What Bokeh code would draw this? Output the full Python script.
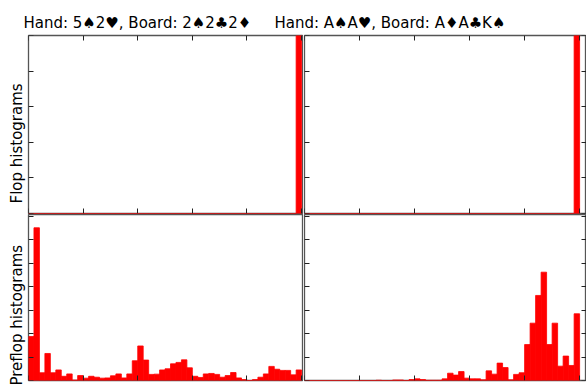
import numpy as np
from bokeh.plotting import figure
from bokeh.models import Range1d, LinearAxis, SingleIntervalTicker, Title
from bokeh.core.properties import value
from bokeh.layouts import column, row
from bokeh.embed import file_html
from bokeh.resources import INLINE

titles = ["Hand: 5♠2♥, Board: 2♠2♣2♦", "Hand: A♠A♥, Board: A♦A♣K♠"]
row_labels = ["Flop histograms", "Preflop histograms"]
n_bins = 50

flop_left = [0, 0, 0, 0, 0, 0, 0, 0, 0, 0,
             0, 0, 0, 0, 0, 0, 0, 0, 0, 0,
             0, 0, 0, 0, 0, 0, 0, 0, 0, 0,
             0, 0, 0, 0, 0, 0, 0, 0, 0, 0,
             0, 0, 0, 0, 0, 0, 0, 0, 0, 1.0]
flop_right = [0, 0, 0, 0, 0, 0, 0, 0, 0, 0,
              0, 0, 0, 0, 0, 0, 0, 0, 0, 0,
              0, 0, 0, 0, 0, 0, 0, 0, 0, 0,
              0, 0, 0, 0, 0, 0, 0, 0, 0, 0,
              0, 0, 0, 0, 0, 0, 0, 0, 0, 1.0]
preflop_left = [0.0374, 0.1300, 0.0066, 0.0230, 0.0066, 0.0090, 0.0036, 0.0056, 0.0004, 0.0042,
                0.0020, 0.0036, 0.0028, 0.0020, 0.0022, 0.0040, 0.0056, 0.0022, 0.0056, 0.0168,
                0.0294, 0.0174, 0.0052, 0.0054, 0.0090, 0.0100, 0.0142, 0.0154, 0.0176, 0.0108,
                0.0036, 0.0026, 0.0056, 0.0060, 0.0052, 0.0028, 0.0042, 0.0068, 0.0022, 0.0008,
                0.0000, 0.0008, 0.0028, 0.0056, 0.0120, 0.0096, 0.0086, 0.0086, 0.0048, 0.0090]
preflop_right = [0.0000, 0.0000, 0.0000, 0.0000, 0.0000, 0.0000, 0.0000, 0.0000, 0.0000, 0.0000,
                 0.0000, 0.0000, 0.0000, 0.0002, 0.0000, 0.0000, 0.0004, 0.0004, 0.0000, 0.0008,
                 0.0014, 0.0008, 0.0002, 0.0002, 0.0002, 0.0014, 0.0062, 0.0046, 0.0076, 0.0020,
                 0.0014, 0.0014, 0.0006, 0.0082, 0.0054, 0.0148, 0.0110, 0.0006, 0.0052, 0.0066,
                 0.0306, 0.0488, 0.0724, 0.0922, 0.0306, 0.0488, 0.0122, 0.0208, 0.0128, 0.0568]

edges = np.linspace(0.0, 1.0, n_bins + 1)

SPINE = "#555555"
TICK = "#222222"
FONT = "DejaVu Sans"


def make_axis(ticker, loc):
    ax = LinearAxis(ticker=ticker, fixed_location=loc)
    ax.major_label_text_font_size = "0px"
    ax.major_label_text_color = None
    ax.major_label_standoff = 0
    ax.major_tick_out = 0
    ax.major_tick_in = 5
    ax.minor_tick_in = 0
    ax.minor_tick_out = 0
    ax.major_tick_line_color = TICK
    ax.major_tick_line_width = 1
    ax.axis_line_color = None
    return ax


def panel(values, x_end, y_end, y_step, fw, fh, borders, sides,
          ylabel=None, ylabel_offset=0):
    p = figure(frame_width=fw, frame_height=fh,
               x_range=Range1d(0, x_end), y_range=Range1d(0, y_end),
               x_axis_location=None, y_axis_location=None,
               output_backend="svg", toolbar_location=None,
               min_border_left=borders[0], min_border_right=borders[1],
               min_border_top=borders[2], min_border_bottom=borders[3])
    p.grid.visible = False
    p.outline_line_color = SPINE
    p.outline_line_width = 1.3
    p.background_fill_color = "white"
    p.border_fill_color = "white"
    xt = SingleIntervalTicker(interval=0.2, num_minor_ticks=0)
    yt = SingleIntervalTicker(interval=y_step, num_minor_ticks=0)
    locs = {"left": 0, "below": 0, "above": y_end, "right": x_end}
    for side in sides:
        ticker = xt if side in ("above", "below") else yt
        p.add_layout(make_axis(ticker, locs[side]), side)
    if ylabel:
        t = Title(text=ylabel, align="left", offset=ylabel_offset,
                  text_font=FONT, text_font_size="15px",
                  text_font_style="normal", text_color="black", standoff=6)
        p.add_layout(t, "left")
    p.quad(left=edges[:-1], right=edges[1:], bottom=0, top=values,
           fill_color="#ff0000", line_color="#ff0000", line_width=0.8)
    return p


# header with the two hand titles
head = figure(frame_width=586, frame_height=34,
              x_range=Range1d(0, 586), y_range=Range1d(34, 0),
              x_axis_location=None, y_axis_location=None,
              output_backend="svg", toolbar_location=None,
              min_border_left=0, min_border_right=0,
              min_border_top=0, min_border_bottom=0)
head.grid.visible = False
head.outline_line_color = None
head.text(x=[23, 274], y=[22, 22], text=titles,
          text_font=value(FONT), text_font_size="15px",
          text_baseline="alphabetic", text_align="left", text_color="black")

tl = panel(flop_left, 1.007, 1.0, 0.2, 275, 178, (28, 0, 1, 1),
           ["left", "above", "below"],
           ylabel=row_labels[0], ylabel_offset=10)
tr = panel(flop_right, 1.025, 1.0, 0.2, 282, 178, (1, 0, 1, 1),
           ["left", "above", "below", "right"])
bl = panel(preflop_left, 1.007, 0.1413, 0.02, 275, 166, (28, 0, 0, 6),
           ["left", "below"],
           ylabel=row_labels[1], ylabel_offset=-5)
br = panel(preflop_right, 1.025, 0.1413, 0.02, 282, 166, (1, 0, 0, 6),
           ["left", "below", "right"])

layout = column(head, row(tl, tr, spacing=0), row(bl, br, spacing=0), spacing=0)

html = file_html(layout, INLINE)
open("out.html", "w").write(html)
